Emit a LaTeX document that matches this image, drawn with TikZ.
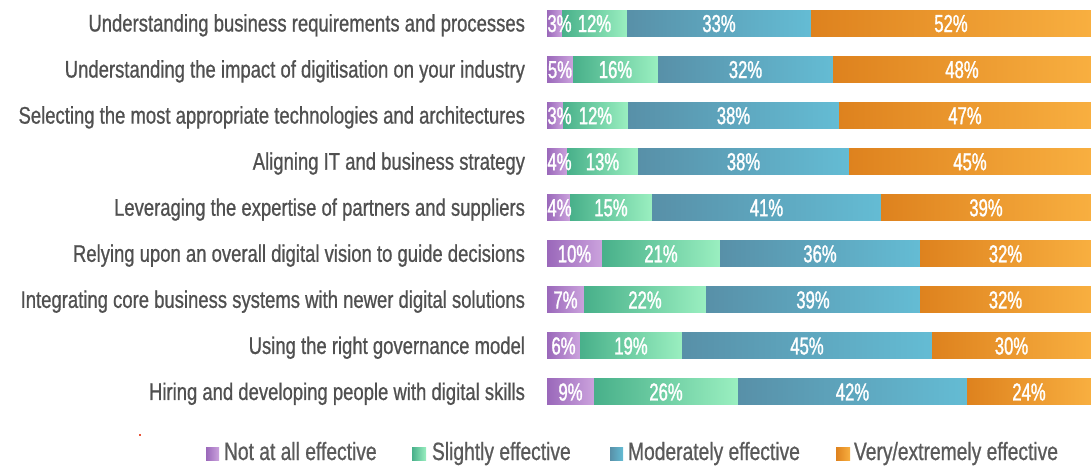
\documentclass[tikz,border=0pt]{standalone}
\usepackage{fontspec}
\usepackage{tikz}
\newfontfamily\barfont{Liberation Sans}[FakeStretch=0.77,FakeBold=0.8]
\newfontfamily\pctfont{Liberation Sans}[FakeStretch=0.68,FakeBold=1.2]
\definecolor{labgray}{HTML}{505050}
\definecolor{leggray}{HTML}{5A5A5A}
\definecolor{naL}{HTML}{9A68BA}
\definecolor{naR}{HTML}{CBA2DD}
\definecolor{slL}{HTML}{48B08A}
\definecolor{slR}{HTML}{9AEFC0}
\definecolor{moL}{HTML}{5890A8}
\definecolor{moR}{HTML}{64BCD4}
\definecolor{veL}{HTML}{DE821E}
\definecolor{veR}{HTML}{F8AF40}
\definecolor{dotred}{HTML}{E8553A}

\begin{document}
\begin{tikzpicture}
	[
	 x = 1pt,
	 y = -1pt,
	 every node/.style = {inner sep = 0pt,
	                      outer sep = 0pt},
	 lbl/.style = {anchor = base east,
	               text = labgray,
	               font = \barfont\fontsize{24}{26}\selectfont},
	 pct/.style = {anchor = base,
	               text = white,
	               font = \pctfont\fontsize{24.5}{26}\selectfont},
	 leg/.style = {anchor = base west,
	               text = leggray,
	               font = \barfont\fontsize{25}{27}\selectfont},
	 NA/.style = {left color = naL, right color = naR},
	 SL/.style = {left color = slL, right color = slR},
	 MO/.style = {left color = moL, right color = moR},
	 VE/.style = {left color = veL, right color = veR}
	]
	
	\useasboundingbox (0,0) rectangle (1091,466);
	
	% rows: index / label / segment ends / percentages
	\foreach \i/\txt/\xa/\xb/\xc/\pa/\pb/\pc/\pd in {
	  0/{Understanding business requirements and processes}/562/627/811/3/12/33/52,
	  1/{Understanding the impact of digitisation on your industry}/573/658/833/5/16/32/48,
	  2/{Selecting the most appropriate technologies and architectures}/563/628/839/3/12/38/47,
	  3/{Aligning IT and business strategy}/567/638/849/4/13/38/45,
	  4/{Leveraging the expertise of partners and suppliers}/570/652/881/4/15/41/39,
	  5/{Relying upon an overall digital vision to guide decisions}/602/720/920/10/21/36/32,
	  6/{Integrating core business systems with newer digital solutions}/584/706/920/7/22/39/32,
	  7/{Using the right governance model}/580/682/932/6/19/45/30,
	  8/{Hiring and developing people with digital skills}/594/738/967/9/26/42/24}
	{
	  \pgfmathsetmacro{\yc}{23.5+46.06*\i}
	  \pgfmathsetmacro{\xna}{max((547+\xa)/2,559.5)}
	  \path[NA] (547,{\yc-13}) rectangle (\xa,{\yc+13});
	  \path[SL] (\xa,{\yc-13}) rectangle (\xb,{\yc+13});
	  \path[MO] (\xb,{\yc-13}) rectangle (\xc,{\yc+13});
	  \path[VE] (\xc,{\yc-13}) rectangle (1091,{\yc+13});
	  \node[lbl] (lab\i) at (525,{\yc+8}) {\txt};
	  \node[pct] (na\i) at (\xna,{\yc+8.5}) {\pa\%};
	  \node[pct] (sl\i) at ({(\xa+\xb)/2},{\yc+8.5}) {\pb\%};
	  \node[pct] (mo\i) at ({(\xb+\xc)/2},{\yc+8.5}) {\pc\%};
	  \node[pct] (ve\i) at ({(\xc+1091)/2},{\yc+8.5}) {\pd\%};
	}
	
	% legend
	\path[NA] (206,447) rectangle (219,460.5);
	\node[leg] (legNA) at (224,460) {Not at all effective};
	\path[SL] (412,447) rectangle (426,460.5);
	\node[leg] (legSL) at (432,460) {Slightly effective};
	\path[MO] (610,447) rectangle (623,460.5);
	\node[leg] (legMO) at (628,460) {Moderately effective};
	\path[VE] (836,447) rectangle (850,460.5);
	\node[leg] (legVE) at (854,460) {Very/extremely effective};
	
	\fill[dotred] (139,434) rectangle (141,436);
\end{tikzpicture}
\end{document}
